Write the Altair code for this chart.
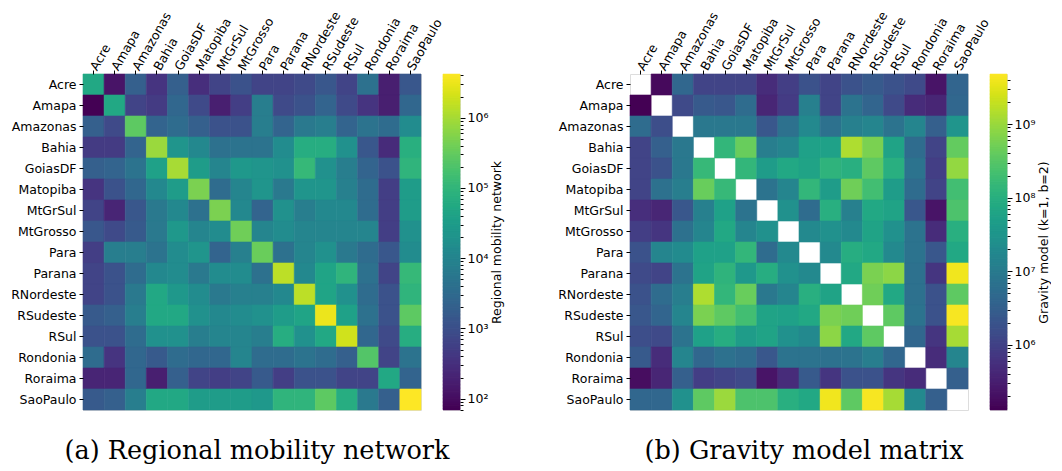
import math
import altair as alt
import pandas as pd

regions = ["Acre", "Amapa", "Amazonas", "Bahia", "GoiasDF", "Matopiba", "MtGrSul", "MtGrosso",
           "Para", "Parana", "RNordeste", "RSudeste", "RSul", "Rondonia", "Roraima", "SaoPaulo"]

# (a) Regional mobility network: one list per origin row, columns in `regions` order
mob_acre      = [51000, 120, 1900, 360, 1900, 290, 630, 1100, 630, 630, 780, 1350, 630, 4100, 170, 1350]
mob_amapa     = [69, 51000, 630, 450, 2600, 780, 170, 500, 7100, 780, 1100, 2300, 780, 360, 170, 2600]
mob_amazonas  = [1900, 780, 270000, 2300, 3300, 1900, 1100, 1100, 7100, 2300, 5800, 7100, 2300, 4600, 3300, 14000]
mob_bahia     = [450, 450, 2300, 810000, 21000, 12000, 4100, 4600, 4600, 14000, 65000, 65000, 17000, 1350, 260, 72000]
mob_goiasdf   = [1900, 2300, 4600, 37000, 1000000, 30000, 10000, 24000, 21000, 17000, 110000, 17000, 7100, 2300, 1100, 89000]
mob_matopiba  = [360, 1100, 2600, 12000, 30000, 470000, 3300, 10000, 21000, 5800, 21000, 21000, 7900, 3300, 500, 30000]
mob_mtgrsul   = [630, 210, 1350, 5800, 12000, 4100, 470000, 12000, 2300, 17000, 7100, 12000, 12000, 3300, 500, 30000]
mob_mtgrosso  = [1350, 780, 1500, 5800, 24000, 10000, 14000, 380000, 10000, 14000, 10000, 10000, 10000, 10000, 500, 17000]
mob_para      = [500, 7100, 7100, 4600, 14000, 21000, 2300, 7900, 340000, 4100, 10000, 17000, 5800, 3300, 1350, 14000]
mob_parana    = [630, 1100, 3300, 12000, 14000, 5800, 14000, 14000, 4100, 1400000, 12000, 42000, 89000, 4100, 630, 110000]
mob_rnordeste = [630, 1100, 5800, 51000, 24000, 14000, 5800, 7900, 7900, 12000, 1400000, 42000, 17000, 3300, 1100, 89000]
mob_rsudeste  = [1500, 1900, 7100, 51000, 51000, 17000, 12000, 14000, 17000, 30000, 42000, 3100000, 37000, 4100, 1100, 270000]
mob_rsul      = [1100, 1100, 3300, 17000, 17000, 7100, 10000, 10000, 7100, 65000, 17000, 51000, 1950000, 2600, 780, 65000]
mob_rondonia  = [3300, 360, 2600, 1500, 3300, 2600, 2600, 10000, 3300, 3300, 4600, 3300, 1900, 220000, 630, 4600]
mob_roraima   = [210, 210, 2600, 170, 1900, 630, 500, 630, 1500, 500, 1100, 1100, 630, 630, 51000, 2300]
mob_saopaulo  = [1500, 1900, 7100, 51000, 51000, 30000, 30000, 30000, 24000, 89000, 89000, 270000, 65000, 5800, 1900, 4200000]

# (b) Gravity model matrix (k=1, b=2); diagonal is empty
grav_acre      = [None, 1.6e5, 4.2e6, 1.07e6, 1.07e6, 1.07e6, 4.7e5, 8.7e5, 1.8e6, 1.07e6, 1.8e6, 2.5e6, 1.8e6, 1.3e6, 2.2e5, 3.8e6]
grav_amapa     = [1.3e5, None, 1.3e6, 2.5e6, 2.2e6, 5.2e6, 3.8e5, 7.9e5, 1.2e7, 1.07e6, 7.1e6, 3.8e6, 1.3e6, 4.7e5, 3.8e5, 4.2e6]
grav_amazonas  = [5.2e6, 1.5e6, None, 8.7e6, 8.7e6, 8.7e6, 2.2e6, 6.5e6, 1.8e7, 6.5e6, 1.2e7, 1.5e7, 7.1e6, 1.5e7, 3.1e6, 3.1e7]
grav_bahia     = [1.07e6, 3.1e6, 8.7e6, None, 1.35e8, 4.3e8, 1.1e7, 1.5e7, 5.2e7, 5.2e7, 1.35e9, 5.9e8, 5.8e7, 5.2e6, 1.07e6, 3.9e8]
grav_goiasdf   = [1.07e6, 1.8e6, 8.7e6, 1.5e8, None, 1.35e8, 4.3e7, 7.2e7, 5.8e7, 1.2e8, 9.8e7, 3.5e8, 9.8e7, 7.1e6, 8.7e5, 8.9e8]
grav_matopiba  = [1.07e6, 6.5e6, 1.1e7, 4.3e8, 1.5e8, None, 7.1e6, 1.5e7, 1.35e8, 4.3e7, 4.8e8, 2.0e8, 4.3e7, 5.2e6, 1.07e6, 2.0e8]
grav_mtgrsul   = [5.1e5, 3.8e5, 2.2e6, 1.2e7, 5.2e7, 7.1e6, None, 2.5e7, 5.2e6, 9.8e7, 1.2e7, 7.2e7, 5.8e7, 2.2e6, 2.2e5, 2.5e8]
grav_mtgrosso  = [8.7e5, 6.3e5, 6.5e6, 1.5e7, 7.2e7, 1.5e7, 2.5e7, None, 1.8e7, 2.5e7, 1.8e7, 5.8e7, 2.5e7, 7.1e6, 4.7e5, 9.8e7]
grav_para      = [1.8e6, 1.5e7, 2.0e7, 5.2e7, 5.2e7, 1.35e8, 5.2e6, 1.8e7, None, 1.8e7, 8.9e7, 7.2e7, 1.8e7, 7.1e6, 2.2e6, 7.2e7]
grav_parana    = [1.3e6, 1.07e6, 7.1e6, 5.8e7, 1.2e8, 3.5e7, 8.9e7, 2.5e7, 1.8e7, None, 7.2e7, 5.9e8, 7.9e8, 6.5e6, 6.3e5, 3.9e9]
grav_rnordeste = [1.8e6, 5.2e6, 1.1e7, 1.35e9, 1.35e8, 4.3e8, 8.7e6, 1.5e7, 9.8e7, 5.8e7, None, 4.8e8, 7.2e7, 6.5e6, 1.8e6, 3.5e8]
grav_rsudeste  = [2.2e6, 3.8e6, 1.5e7, 5.9e8, 3.5e8, 2.0e8, 5.8e7, 5.2e7, 7.2e7, 5.9e8, 4.8e8, None, 3.5e8, 7.1e6, 1.8e6, 4.3e9]
grav_rsul      = [1.5e6, 1.3e6, 7.1e6, 5.2e7, 8.9e7, 4.3e7, 5.8e7, 2.5e7, 1.8e7, 7.9e8, 7.2e7, 3.5e8, None, 4.2e6, 6.3e5, 1.2e9]
grav_rondonia  = [2.5e6, 4.7e5, 1.5e7, 4.2e6, 6.5e6, 5.2e6, 2.2e6, 7.1e6, 7.1e6, 6.5e6, 7.1e6, 1.1e7, 4.2e6, None, 4.7e5, 1.5e7]
grav_roraima   = [1.8e5, 3.8e5, 3.1e6, 8.7e5, 1.07e6, 1.3e6, 2.2e5, 4.7e5, 2.5e6, 6.3e5, 1.8e6, 1.8e6, 6.3e5, 4.7e5, None, 3.1e6]
grav_saopaulo  = [4.2e6, 4.2e6, 2.5e7, 3.5e8, 1.0e9, 2.5e8, 2.5e8, 9.8e7, 7.2e7, 3.9e9, 3.5e8, 4.3e9, 1.2e9, 1.8e7, 3.1e6, None]

mob_rows = [mob_acre, mob_amapa, mob_amazonas, mob_bahia, mob_goiasdf, mob_matopiba, mob_mtgrsul, mob_mtgrosso,
            mob_para, mob_parana, mob_rnordeste, mob_rsudeste, mob_rsul, mob_rondonia, mob_roraima, mob_saopaulo]
grav_rows = [grav_acre, grav_amapa, grav_amazonas, grav_bahia, grav_goiasdf, grav_matopiba, grav_mtgrsul, grav_mtgrosso,
             grav_para, grav_parana, grav_rnordeste, grav_rsudeste, grav_rsul, grav_rondonia, grav_roraima, grav_saopaulo]

# colour-bar ranges (as shown on the colour bars)
mob_range = [69, 4.2e6]
grav_range = [1.3e5, 4.8e9]


def to_frame(rows):
    recs = []
    for origin, row in zip(regions, rows):
        for dest, v in zip(regions, row):
            if v is not None:
                recs.append({"origin": origin, "dest": dest, "value": v})
    return pd.DataFrame(recs)


FONT = "DejaVu Sans"
LABEL_SIZE = 12.5
HM_W, HM_H = 338, 336
CB_W = 17

is_major = "abs(log(datum.value)/LN10 - round(log(datum.value)/LN10)) < 0.001"
sup = "['\u2070','\u00b9','\u00b2','\u00b3','\u2074','\u2075','\u2076','\u2077','\u2078','\u2079']"
label_expr = f"{is_major} ? '10' + {sup}[round(log(datum.value)/LN10)] : ''"


def all_ticks(lo, hi):
    out = []
    dec = 10 ** int(math.floor(math.log10(lo)))
    while dec <= hi:
        for m in range(1, 10):
            v = m * dec
            if lo <= v <= hi:
                out.append(v)
        dec *= 10
    return out


def panel(rows, rng, cb_title, caption):
    df = to_frame(rows)
    cscale = alt.Scale(type="log", domain=rng, scheme="viridis")
    heat = alt.Chart(df).mark_rect(strokeWidth=0.6).encode(
        x=alt.X("dest:N", sort=regions, title=None,
                axis=alt.Axis(orient="top", labelAngle=-60, labelAlign="left", labelBaseline="middle",
                              labelFont=FONT, labelFontSize=LABEL_SIZE, labelColor="black",
                              tickColor="black", tickSize=4, labelPadding=1, domain=False)),
        y=alt.Y("origin:N", sort=regions, title=None,
                axis=alt.Axis(labelFont=FONT, labelFontSize=LABEL_SIZE, labelColor="black",
                              tickColor="black", tickSize=4, labelPadding=3, domain=False)),
        color=alt.Color("value:Q", scale=cscale, legend=None),
        stroke=alt.Stroke("value:Q", scale=cscale, legend=None),
    ).properties(width=HM_W, height=HM_H)

    lo, hi = math.log10(rng[0]), math.log10(rng[1])
    n = 240
    cb = alt.Chart(alt.sequence(0, n, 1, as_="i")).transform_calculate(
        v0=f"pow(10, {lo} + datum.i/{n}*({hi}-{lo}))",
        v1=f"pow(10, {lo} + min(datum.i+1.5, {n})/{n}*({hi}-{lo}))",
    ).mark_rect(strokeWidth=0.5).encode(
        y=alt.Y("v0:Q", scale=alt.Scale(type="log", domain=rng, nice=False),
                axis=alt.Axis(orient="right", values=all_ticks(rng[0], rng[1]), labelExpr=label_expr,
                              tickSize={"condition": {"test": is_major, "value": 5}, "value": 3},
                              tickColor="black", labelFont=FONT, labelFontSize=LABEL_SIZE, labelColor="black",
                              domain=False, grid=False, labelPadding=2,
                              title=cb_title, titleAngle=270, titleBaseline="top", titleFont=FONT,
                              titleFontSize=LABEL_SIZE, titleFontWeight="normal", titleColor="black",
                              titlePadding=3)),
        y2="v1:Q",
        color=alt.Color("v0:Q", scale=cscale, legend=None),
        stroke=alt.Stroke("v0:Q", scale=cscale, legend=None),
    ).properties(width=CB_W, height=HM_H)

    return alt.hconcat(heat, cb, spacing=22, bounds="flush").properties(
        title=alt.TitleParams(caption, orient="bottom", anchor="middle", font="DejaVu Serif",
                              fontSize=25.5, fontWeight="normal", color="black", offset=28)
    )


left = panel(mob_rows, mob_range, "Regional mobility network", "(a) Regional mobility network")
right = panel(grav_rows, grav_range, "Gravity model (k=1, b=2)", "(b) Gravity model matrix")

chart = alt.hconcat(left, right, spacing=53).resolve_scale(
    color="independent", stroke="independent"
).properties(
    padding={"left": 2, "top": 0, "right": 0, "bottom": 0}
).configure_view(stroke="black", strokeWidth=1).configure(background="white")

chart.save("out.html", embed_options={"renderer": "svg", "actions": False})
